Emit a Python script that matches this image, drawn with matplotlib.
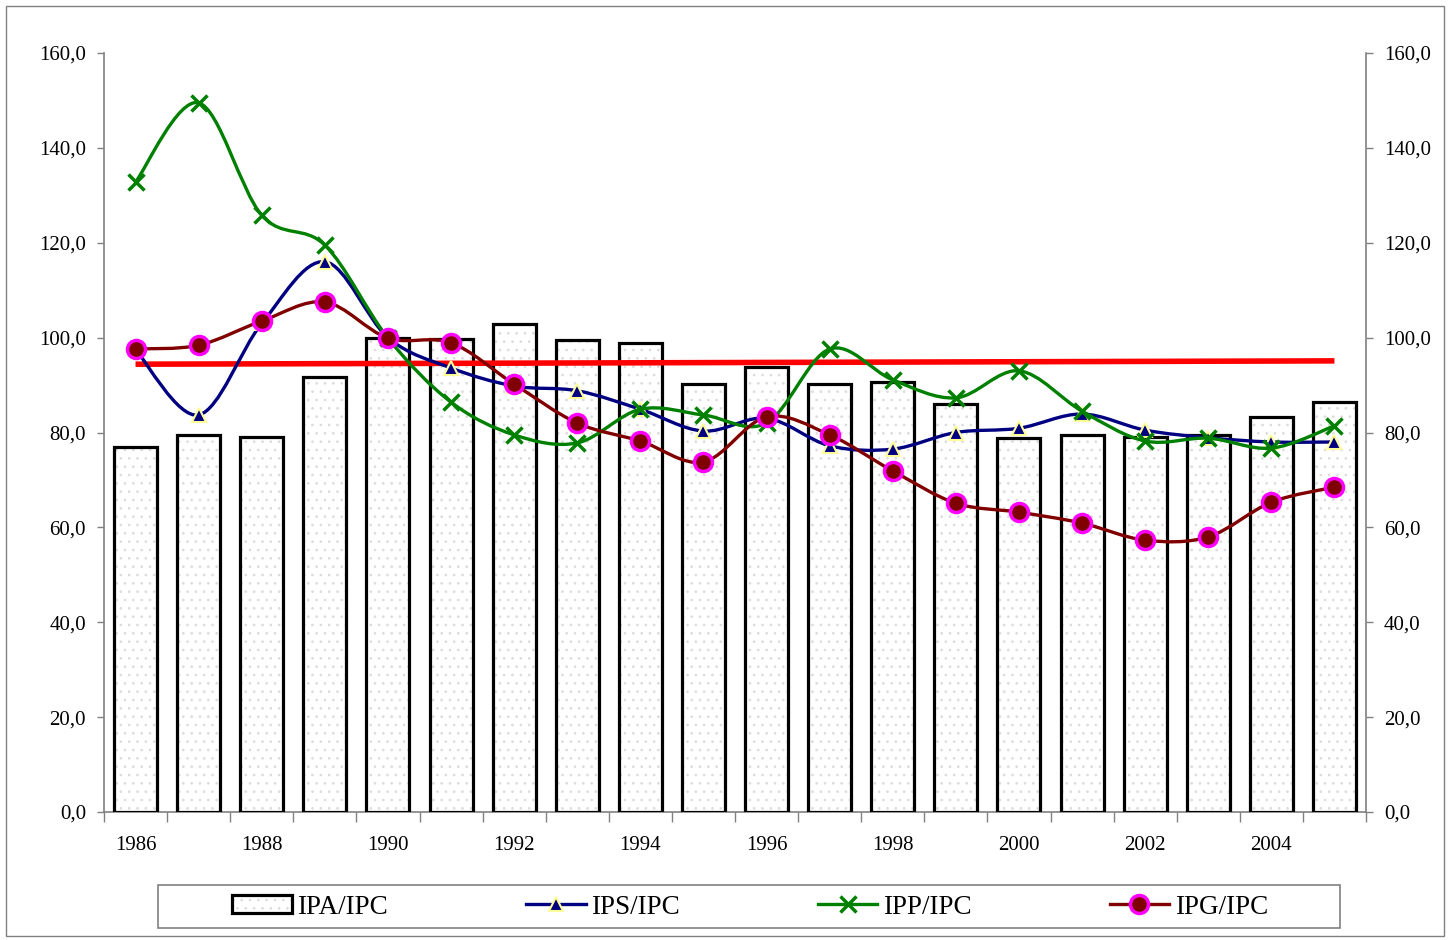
import numpy as np
import matplotlib
matplotlib.use("Agg")
import matplotlib.pyplot as plt
from matplotlib.path import Path
from matplotlib.patches import PathPatch, Patch, Rectangle
from matplotlib.lines import Line2D
from matplotlib.ticker import FuncFormatter

plt.rcParams['font.family'] = ['Liberation Serif', 'DejaVu Serif']
plt.rcParams['hatch.linewidth'] = 0.7

years = np.arange(1986, 2006)
ipa = [76.9, 79.5, 79.0, 91.7, 99.9, 99.7, 102.9, 99.5, 98.9, 90.2,
       93.8, 90.2, 90.7, 86.0, 78.8, 79.5, 79.0, 79.5, 83.3, 86.4]
ips = [97.5, 83.7, 103.0, 116.0, 100.0, 93.6, 89.8, 88.8, 84.9, 80.3,
       83.0, 77.2, 76.5, 80.0, 80.9, 83.9, 80.5, 78.9, 78.0, 78.0]
ipp = [132.8, 149.5, 125.8, 119.5, 99.9, 86.4, 79.5, 77.8, 84.9, 83.7,
       82.0, 97.6, 91.1, 87.3, 93.0, 84.5, 78.2, 78.8, 76.7, 81.4]
ipg = [97.6, 98.4, 103.5, 107.5, 99.9, 98.9, 90.2, 82.0, 78.2, 73.8,
       83.3, 79.5, 71.9, 65.1, 63.2, 60.9, 57.3, 58.0, 65.3, 68.5]
trend_x = [1986, 2005]
trend_y = [94.4, 95.1]

labels = ["IPA/IPC", "IPS/IPC", "IPP/IPC", "IPG/IPC"]


def smooth_path(x, y):
    # Excel-like smoothed line: cubic Bezier segments (Catmull-Rom style)
    x = np.asarray(x, float)
    y = np.asarray(y, float)
    pts = np.column_stack([x, y])
    n = len(pts)
    verts = [pts[0]]
    codes = [Path.MOVETO]
    for i in range(n - 1):
        p0 = pts[i - 1] if i > 0 else pts[i]
        p1 = pts[i]
        p2 = pts[i + 1]
        p3 = pts[i + 2] if i + 2 < n else pts[i + 1]
        c1 = p1 + (p2 - p0) / 6.0
        c2 = p2 - (p3 - p1) / 6.0
        verts += [c1, c2, p2]
        codes += [Path.CURVE4] * 3
    return Path(verts, codes)


fig = plt.figure(figsize=(14.5, 9.4), dpi=100)
fig.patches.append(Rectangle((0.004, 0.004), 0.992, 0.99, transform=fig.transFigure,
                             fill=False, edgecolor='#808080', linewidth=1))
ax = fig.add_axes([104/1450, 1-812/940, (1366-104)/1450, (812-53)/940])

dot_color = '#dcdcdc'
# bars: dotted fill then black outline
ax.bar(years, ipa, width=0.68, color='white', edgecolor=dot_color, linewidth=0,
       hatch='..', zorder=2)
ax.bar(years, ipa, width=0.68, fill=False, edgecolor='black', linewidth=2.3, zorder=3)

# red flat line
ax.plot(trend_x, trend_y, color='#ff0000', linewidth=4, zorder=4, solid_capstyle='butt')

series = [
    (ips, '#000080', dict(marker='^', markersize=10, markerfacecolor='#000080',
                           markeredgecolor='#ffff99', markeredgewidth=1.5)),
    (ipp, '#008000', dict(marker='x', markersize=12, markeredgecolor='#008000',
                           markeredgewidth=2.5)),
    (ipg, '#800000', dict(marker='o', markersize=13, markerfacecolor='#800000',
                           markeredgecolor='#ff00ff', markeredgewidth=2.5)),
]
for i, (vals, col, mk) in enumerate(series):
    ax.add_patch(PathPatch(smooth_path(years, vals), fill=False, edgecolor=col,
                           linewidth=2.4, zorder=5 + i))
    ax.plot(years, vals, linestyle='none', zorder=5.5 + i, **mk)

ax.set_xlim(1985.5, 2005.5)
ax.set_ylim(0, 160)

fmt = FuncFormatter(lambda v, p: f"{v:.1f}".replace('.', ','))
ax.set_yticks(np.arange(0, 161, 20))
ax.yaxis.set_major_formatter(fmt)
ax.tick_params(axis='y', which='major', direction='out', length=5, width=1,
               color='#808080', labelsize=15, pad=8, right=True, labelright=True)

ax.set_xticks(years[::2])
ax.set_xticks(np.arange(1985.5, 2006, 1), minor=True)
ax.tick_params(axis='x', which='major', length=0, labelsize=15, pad=17)
ax.tick_params(axis='x', which='minor', length=7, width=1, color='#808080',
               direction='out')

for s in ['left', 'right', 'bottom']:
    ax.spines[s].set_color('#808080')
    ax.spines[s].set_linewidth(1.2)
ax.spines['top'].set_visible(False)

# legend frame drawn separately, entries centred inside it
fig.patches.append(Rectangle((158/1450, 1-928/940), (1340-158)/1450, 43/940,
                             transform=fig.transFigure, fill=False,
                             edgecolor='#808080', linewidth=1.2))
bar_handle = (Patch(facecolor='white', edgecolor=dot_color, linewidth=0, hatch='..'),
              Patch(fill=False, edgecolor='black', linewidth=2.3))
handles = [
    bar_handle,
    Line2D([], [], color='#000080', linewidth=2.4, **series[0][2]),
    Line2D([], [], color='#008000', linewidth=2.4, **series[1][2]),
    Line2D([], [], color='#800000', linewidth=2.4, **series[2][2]),
]
leg = fig.legend(handles, labels, ncol=4, loc='center',
                 bbox_to_anchor=(750/1450, 1-907/940),
                 fontsize=19.5, frameon=False, handlelength=2.2,
                 handleheight=0.6, handletextpad=0.2, columnspacing=5.1)

fig.savefig("out.png", dpi=100)
